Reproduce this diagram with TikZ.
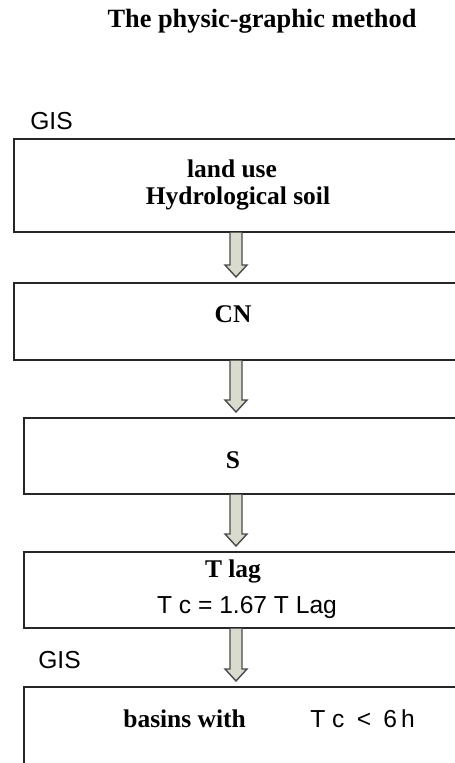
\documentclass[tikz,border=0pt]{standalone}
\usepackage{fontspec}
\setmainfont{Liberation Serif}
\setsansfont{Liberation Sans}
\usetikzlibrary{calc, positioning}
\definecolor{boxline}{HTML}{262626}
\definecolor{arrline}{HTML}{4A4A4A}
\definecolor{arrfill}{HTML}{D9DBCF}

% hollow block arrow from the bottom of one box to the top of the next
\newcommand{\flowarr}[2]{%
  \draw[hollowarr]
    ($(#1.south -| ax)+(-6,0)$) -- ($(#2.north -| ax)+(-6,-17)$)
    -- ($(#2.north -| ax)+(-11,-17)$) -- ($(#2.north -| ax)+(0,-5)$)
    -- ($(#2.north -| ax)+(11,-17)$) -- ($(#2.north -| ax)+(6,-17)$)
    -- ($(#1.south -| ax)+(6,0)$);
}

\begin{document}
\begin{tikzpicture}[
  x=0.02cm, y=-0.02cm,
  stepbox/.style={
    rectangle, draw=boxline, line width=1pt, fill=white,
    anchor=north west, inner sep=0pt
  },
  serifbold/.style={
    font=\fontsize{14.5}{16}\selectfont\bfseries, anchor=base, inner sep=0pt
  },
  sanstext/.style={
    font=\fontsize{14}{16}\selectfont\sffamily, anchor=base, inner sep=0pt
  },
  hollowarr/.style={draw=arrline, fill=arrfill, line width=0.8pt, line join=miter}
]
  \useasboundingbox (0,0) rectangle (455,763);

  \node[serifbold, font=\fontsize{15}{17}\selectfont\bfseries] (title) at (262,28) {The physic-graphic method};

  \node[stepbox, minimum width=9.14cm, minimum height=1.86cm] (b1) at (13,138) {};
  \node[stepbox, minimum width=9.14cm, minimum height=1.54cm] (b2) at (13,282) {};
  \node[stepbox, minimum width=8.94cm, minimum height=1.52cm] (b3) at (23,417) {};
  \node[stepbox, minimum width=8.94cm, minimum height=1.52cm] (b4) at (23,551) {};
  \node[stepbox, minimum width=8.94cm, minimum height=2.08cm] (b5) at (23,686) {};

  \coordinate (ax) at (236,0);

  \node[sanstext, anchor=base west] (gis1) at (30,130) {GIS};
  \node[serifbold] (landuse) at (232,178) {land use};
  \node[serifbold] (soil) at (238,205) {Hydrological soil};
  \node[serifbold] (cn) at (233,322) {CN};
  \node[serifbold] (s) at (233,468) {S};
  \node[serifbold] (tlag) at (233,577) {T lag};
  \node[sanstext] (tc) at (247,613) {T c = 1.67 T Lag};
  \node[sanstext, anchor=base west] (gis2) at (38,668) {GIS};
  \node[serifbold, anchor=base west] (basins) at (123,727) {basins with};
  \node[sanstext, anchor=base west] (cond) at (310,727) {T c\,\,\,<\,\,\,6\,h};

  \flowarr{b1}{b2}
  \flowarr{b2}{b3}
  \flowarr{b3}{b4}
  \flowarr{b4}{b5}
\end{tikzpicture}
\end{document}
